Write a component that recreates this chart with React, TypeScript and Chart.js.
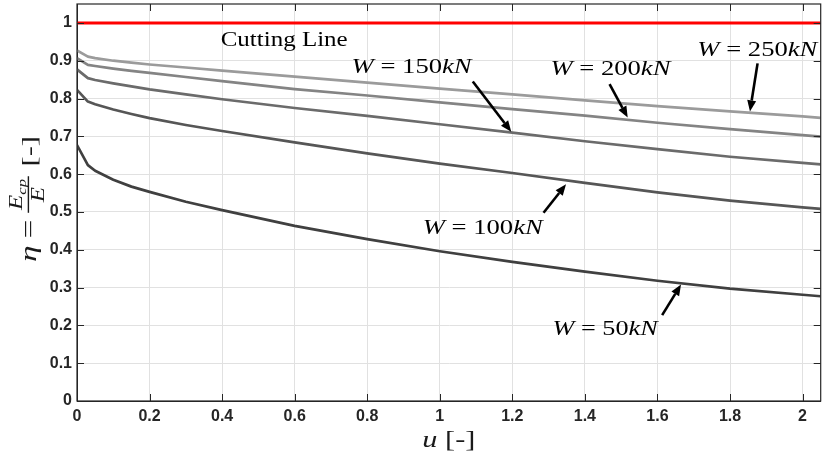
import React, { useEffect, useRef } from "react";
import { Chart, registerables } from "chart.js";

Chart.register(...registerables);

// ---------------- data ----------------
const uValues = [0, 0.03, 0.05, 0.1, 0.15, 0.2, 0.3, 0.4, 0.6, 0.8, 1.0, 1.2, 1.4, 1.6, 1.8, 2.0, 2.05];
const etaW250 = [0.927, 0.911, 0.907, 0.9, 0.895, 0.89, 0.882, 0.874, 0.858, 0.842, 0.826, 0.811, 0.795, 0.78, 0.766, 0.753, 0.749];
const etaW200 = [0.907, 0.889, 0.886, 0.879, 0.873, 0.868, 0.857, 0.846, 0.825, 0.808, 0.79, 0.772, 0.755, 0.736, 0.719, 0.703, 0.699];
const etaW150 = [0.877, 0.854, 0.849, 0.84, 0.832, 0.824, 0.811, 0.798, 0.775, 0.754, 0.732, 0.71, 0.687, 0.666, 0.646, 0.63, 0.626];
const etaW100 = [0.823, 0.792, 0.785, 0.771, 0.759, 0.748, 0.73, 0.714, 0.684, 0.655, 0.628, 0.603, 0.577, 0.552, 0.53, 0.512, 0.508];
const etaW50 = [0.677, 0.624, 0.609, 0.585, 0.567, 0.553, 0.527, 0.505, 0.463, 0.428, 0.396, 0.368, 0.342, 0.318, 0.297, 0.281, 0.277];
const cuttingU = [0, 2.05];
const cuttingEta = [1, 1];

const seriesNames = ["W = 250kN", "W = 200kN", "W = 150kN", "W = 100kN", "W = 50kN"];
const seriesValues = [etaW250, etaW200, etaW150, etaW100, etaW50];
const seriesColors = ["#9b9b9b", "#848484", "#6b6b6b", "#565656", "#404040"];

const xTickValues = [0, 0.2, 0.4, 0.6, 0.8, 1, 1.2, 1.4, 1.6, 1.8, 2];
const yTickValues = [0, 0.1, 0.2, 0.3, 0.4, 0.5, 0.6, 0.7, 0.8, 0.9, 1];
const xMax = 2.05;
const yMax = 1.05;

const cuttingLabel = "Cutting Line";

// annotation label anchors (data coords: left edge, baseline) and arrows (from -> tip)
const labelU = [1.71, 1.305, 0.757, 0.953, 1.311];
const labelEta = [0.913, 0.862, 0.867, 0.443, 0.174];
const arrowFromU = [1.876, 1.468, 1.091, 1.286, 1.613];
const arrowFromEta = [0.893, 0.838, 0.845, 0.498, 0.227];
const arrowToU = [1.855, 1.518, 1.197, 1.348, 1.665];
const arrowToEta = [0.766, 0.75, 0.712, 0.573, 0.308];

// ---------------- drawing helpers ----------------
const SERIF = '"Liberation Serif", "Times New Roman", serif';

type Seg = { t: string; italic: boolean };

function parseMath(label: string): Seg[] {
  const m = label.match(/^(\w) = (\d+)(kN)$/);
  if (!m) return [{ t: label, italic: false }];
  return [
    { t: m[1], italic: true },
    { t: " = ", italic: false },
    { t: m[2], italic: false },
    { t: m[3], italic: true },
  ];
}

function drawSegs(ctx: CanvasRenderingContext2D, segs: Seg[], x: number, y: number, size: number, target: number) {
  const fonts = segs.map((s) => `${s.italic ? "italic " : ""}${size}px ${SERIF}`);
  const widths = segs.map((s, i) => {
    ctx.font = fonts[i];
    return ctx.measureText(s.t).width;
  });
  const total = widths.reduce((a, b) => a + b, 0);
  const sx = target / total;
  ctx.save();
  ctx.translate(x, y);
  ctx.scale(sx, 1);
  ctx.textBaseline = "alphabetic";
  ctx.textAlign = "left";
  let cx = 0;
  segs.forEach((s, i) => {
    ctx.font = fonts[i];
    ctx.fillText(s.t, cx, 0);
    cx += widths[i];
  });
  ctx.restore();
}

function drawArrow(ctx: CanvasRenderingContext2D, x1: number, y1: number, x2: number, y2: number) {
  const ang = Math.atan2(y2 - y1, x2 - x1);
  const headLen = 11;
  const headHalf = 4.5;
  const bx = x2 - headLen * Math.cos(ang);
  const by = y2 - headLen * Math.sin(ang);
  ctx.save();
  ctx.strokeStyle = "#000";
  ctx.fillStyle = "#000";
  ctx.lineWidth = 2.6;
  ctx.beginPath();
  ctx.moveTo(x1, y1);
  ctx.lineTo(bx, by);
  ctx.stroke();
  ctx.beginPath();
  ctx.moveTo(x2, y2);
  ctx.lineTo(bx + headHalf * Math.sin(ang), by - headHalf * Math.cos(ang));
  ctx.lineTo(bx - headHalf * Math.sin(ang), by + headHalf * Math.cos(ang));
  ctx.closePath();
  ctx.fill();
  ctx.restore();
}

const frameTicksPlugin = {
  id: "frameTicks",
  afterDatasetsDraw(chart: any) {
    const { ctx, chartArea: a, scales } = chart;
    const xs = scales.x;
    const ys = scales.y;
    ctx.save();
    ctx.strokeStyle = "#262626";
    ctx.lineWidth = 1;
    const L = 7;
    ctx.beginPath();
    xTickValues.forEach((v) => {
      const px = Math.round(xs.getPixelForValue(v)) + 0.5;
      ctx.moveTo(px, a.bottom);
      ctx.lineTo(px, a.bottom - L);
      ctx.moveTo(px, a.top);
      ctx.lineTo(px, a.top + L);
    });
    yTickValues.forEach((v) => {
      const py = Math.round(ys.getPixelForValue(v)) + 0.5;
      ctx.moveTo(a.left, py);
      ctx.lineTo(a.left + L, py);
      ctx.moveTo(a.right, py);
      ctx.lineTo(a.right - L, py);
    });
    ctx.stroke();
    ctx.lineWidth = 1.2;
    ctx.strokeRect(a.left, a.top, a.right - a.left, a.bottom - a.top);
    ctx.restore();

    // annotations
    ctx.save();
    ctx.fillStyle = "#000";
    drawSegs(
      ctx,
      [{ t: cuttingLabel, italic: false }],
      xs.getPixelForValue(0.396),
      ys.getPixelForValue(0.938),
      20,
      127
    );
    seriesNames.forEach((name, i) => {
      const segs = parseMath(name);
      const target = name.length > 8 ? 120 : 105;
      drawSegs(ctx, segs, xs.getPixelForValue(labelU[i]), ys.getPixelForValue(labelEta[i]), 21, target);
      drawArrow(
        ctx,
        xs.getPixelForValue(arrowFromU[i]),
        ys.getPixelForValue(arrowFromEta[i]),
        xs.getPixelForValue(arrowToU[i]),
        ys.getPixelForValue(arrowToEta[i])
      );
    });
    ctx.restore();
  },
  afterDraw(chart: any) {
    const { ctx, chartArea: a } = chart;
    ctx.save();
    ctx.fillStyle = "#1a1a1a";
    // x-axis title: u [-]
    const cx = (a.left + a.right) / 2;
    const xSegs: Seg[] = [
      { t: "u", italic: true },
      { t: " [-]", italic: false },
    ];
    drawSegs(ctx, xSegs, cx - 26.5, a.bottom + 45.5, 24, 53);

    // y-axis title: eta = E_cp / E [-]  (rotated)
    const baseX = a.left - 41;
    const centerY = 199;
    const fBig = `italic 24px ${SERIF}`;
    const fUp = `24px ${SERIF}`;
    const fFrac = `italic 18px ${SERIF}`;
    const fSub = `italic 12px ${SERIF}`;
    const fBr = `22px ${SERIF}`;
    ctx.font = fBig;
    const wEta = ctx.measureText("\u03B7").width;
    ctx.font = fUp;
    const wEq = ctx.measureText("=").width;
    ctx.font = fFrac;
    const wE = ctx.measureText("E").width;
    ctx.font = fSub;
    const wSub = ctx.measureText("cp").width;
    ctx.font = fBr;
    const wBr = ctx.measureText("[-]").width;
    const wNum = wE + wSub;
    const wFr = Math.max(wNum, wE) + 4;
    const gap1 = 5;
    const gap2 = 5;
    const gap3 = 7;
    const total = wEta + gap1 + wEq + gap2 + wFr + gap3 + wBr;
    const targetLen = 126;
    const s = targetLen / total;
    ctx.translate(baseX, centerY + targetLen / 2);
    ctx.rotate(-Math.PI / 2);
    ctx.scale(s, 1);
    ctx.textBaseline = "alphabetic";
    ctx.textAlign = "left";
    let lx = 0;
    ctx.font = fBig;
    ctx.fillText("\u03B7", lx, 0);
    lx += wEta + gap1;
    ctx.font = fUp;
    ctx.fillText("=", lx, 0);
    lx += wEq + gap2;
    // fraction
    const fx = lx;
    ctx.font = fFrac;
    const numStart = fx + (wFr - wNum) / 2;
    ctx.fillText("E", numStart, -14);
    ctx.font = fSub;
    ctx.fillText("cp", numStart + wE, -10.5);
    ctx.fillRect(fx, -8.3, wFr, 1.4);
    ctx.font = fFrac;
    ctx.fillText("E", fx + (wFr - wE) / 2, 7.5);
    lx += wFr + gap3;
    ctx.font = fBr;
    ctx.fillText("[-]", lx, 0);
    ctx.restore();
  },
};

function fmt(v: number): string {
  return String(Number(v.toFixed(2)));
}

export default function App() {
  const canvasRef = useRef<HTMLCanvasElement | null>(null);

  useEffect(() => {
    const canvas = canvasRef.current;
    if (!canvas) return;
    const datasets: any[] = seriesValues.map((vals, i) => ({
      label: seriesNames[i],
      data: uValues.map((u, j) => ({ x: u, y: vals[j] })),
      borderColor: seriesColors[i],
      borderWidth: 2.7,
      pointRadius: 0,
      fill: false,
      tension: 0,
      borderJoinStyle: "round",
    }));
    datasets.push({
      label: cuttingLabel,
      data: cuttingU.map((u, j) => ({ x: u, y: cuttingEta[j] })),
      borderColor: "#ff0000",
      borderWidth: 3,
      pointRadius: 0,
      fill: false,
    });

    const tickFont = { family: '"Liberation Sans", Arial, Helvetica, sans-serif', size: 16, weight: "bold" as const };

    const chart = new Chart(canvas, {
      type: "line",
      data: { datasets },
      options: {
        responsive: false,
        animation: false,
        layout: { padding: { top: 4, right: 1.3, left: 0, bottom: 0 } },
        plugins: {
          legend: { display: false },
          tooltip: { enabled: false },
        },
        scales: {
          x: {
            type: "linear",
            min: 0,
            max: xMax,
            afterBuildTicks: (scale: any) => {
              scale.ticks = xTickValues.map((v) => ({ value: v }));
            },
            afterFit: (scale: any) => {
              scale.height = 58;
              scale.paddingLeft = 0;
              scale.paddingRight = 0;
            },
            ticks: {
              color: "#262626",
              font: tickFont,
              padding: 6,
              maxRotation: 0,
              autoSkip: false,
              callback: (v: any) => fmt(Number(v)),
            },
            grid: { color: "#e1e1e1", lineWidth: 1, drawTicks: false },
            border: { display: true, color: "#262626", width: 1 },
          },
          y: {
            type: "linear",
            min: 0,
            max: yMax,
            afterBuildTicks: (scale: any) => {
              scale.ticks = yTickValues.map((v) => ({ value: v }));
            },
            afterFit: (scale: any) => {
              scale.width = 77;
              scale.paddingTop = 0;
              scale.paddingBottom = 0;
            },
            ticks: {
              color: "#262626",
              font: tickFont,
              padding: 5,
              autoSkip: false,
              callback: (v: any) => fmt(Number(v)),
            },
            grid: { color: "#e1e1e1", lineWidth: 1, drawTicks: false },
            border: { display: true, color: "#262626", width: 1 },
          },
        },
      } as any,
      plugins: [frameTicksPlugin],
    });
    return () => chart.destroy();
  }, []);

  return (
    <div style={{ position: "absolute", left: 0, top: 0, width: 822, height: 459, background: "#fff" }}>
      <canvas ref={canvasRef} width={822} height={459} style={{ width: 822, height: 459, display: "block" }} />
    </div>
  );
}
